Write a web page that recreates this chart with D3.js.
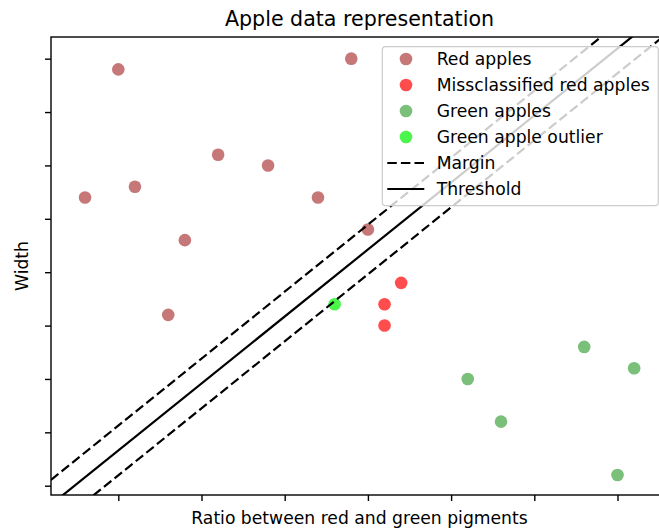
<!DOCTYPE html>
<html>
<head>
<meta charset="utf-8">
<script src="https://cdn.jsdelivr.net/npm/d3@7"></script>
<style>
  body { margin: 0; background: #fff; }
  svg { display: block; font-family: 'DejaVu Sans', sans-serif; }
</style>
</head>
<body>
<svg id="chart"></svg>
<script>
// data
const redX = [1.0, 0.6, 1.2, 2.2, 2.8, 3.4, 1.8, 3.8, 4.0, 1.6];
const redY = [7.8, 5.4, 5.6, 6.2, 6.0, 5.4, 4.6, 8.0, 4.8, 3.2];
const missX = [4.4, 4.2, 4.2];
const missY = [3.8, 3.4, 3.0];
const greenX = [5.2, 5.6, 6.6, 7.2, 7.0];
const greenY = [2.0, 1.2, 2.6, 2.2, 0.2];
const outlierX = [3.6];
const outlierY = [3.4];
const xTicks = [1, 2, 3, 4, 5, 6, 7];
const yTicks = [0, 1, 2, 3, 4, 5, 6, 7, 8];
// line y = slope * x + intercept
const slope = 1.255;
const intercept = -0.595;
const halfMargin = 0.465;

const svgWidth = 659;
const svgHeight = 530;

const svg = d3.select('#chart')
  .attr('width', svgWidth)
  .attr('height', svgHeight);

// axes box; the right edge sits just past the picture
const box = { left: 51, top: 37, right: 668, bottom: 495 };

const x = d3.scaleLinear()
  .domain([0.191, 7.607])
  .range([box.left, box.right]);

const y = d3.scaleLinear()
  .domain([-0.174, 8.406])
  .range([box.bottom, box.top]);

svg.append('clipPath')
  .attr('id', 'plot-area')
  .append('rect')
  .attr('x', box.left)
  .attr('y', box.top)
  .attr('width', box.right - box.left)
  .attr('height', box.bottom - box.top);

const plot = svg.append('g').attr('clip-path', 'url(#plot-area)');

const groups = [
  { name: 'Red apples', xs: redX, ys: redY, color: '#c67777' },
  { name: 'Missclassified red apples', xs: missX, ys: missY, color: '#ff4d4d' },
  { name: 'Green apples', xs: greenX, ys: greenY, color: '#7abf7a' },
  { name: 'Green apple outlier', xs: outlierX, ys: outlierY, color: '#4cf54c' },
];

// scatter
groups.forEach((grp) => {
  plot.append('g')
    .attr('fill', grp.color)
    .selectAll('circle')
    .data(grp.xs.map((v, i) => [v, grp.ys[i]]))
    .enter()
    .append('circle')
    .attr('cx', d => x(d[0]))
    .attr('cy', d => y(d[1]))
    .attr('r', 6.3);
});

// threshold and margins
const xEnds = x.domain();
const lines = [
  { c: intercept + halfMargin, dash: '9.5,4.1' },
  { c: intercept, dash: null },
  { c: intercept - halfMargin, dash: '9.5,4.1' },
];

const line = d3.line()
  .x(d => x(d[0]))
  .y(d => y(d[1]));

plot.selectAll('path.boundary')
  .data(lines)
  .enter()
  .append('path')
  .attr('class', 'boundary')
  .attr('d', l => line(xEnds.map(v => [v, slope * v + l.c])))
  .attr('fill', 'none')
  .attr('stroke', '#000')
  .attr('stroke-width', 2.2)
  .attr('stroke-dasharray', l => l.dash);

// ticks without labels
const xAxis = svg.append('g')
  .attr('transform', `translate(0,${box.bottom})`)
  .call(d3.axisBottom(x).tickValues(xTicks).tickSize(6).tickFormat(() => ''));

const yAxis = svg.append('g')
  .attr('transform', `translate(${box.left},0)`)
  .call(d3.axisLeft(y).tickValues(yTicks).tickSize(6).tickFormat(() => ''));

[xAxis, yAxis].forEach((a) => {
  a.select('.domain').remove();
  a.selectAll('line').attr('stroke', '#000').attr('stroke-width', 1.4);
});

// frame
svg.append('rect')
  .attr('x', box.left)
  .attr('y', box.top)
  .attr('width', box.right - box.left)
  .attr('height', box.bottom - box.top)
  .attr('fill', 'none')
  .attr('stroke', '#000')
  .attr('stroke-width', 1.4);

// titles
svg.append('text')
  .attr('x', (box.left + box.right) / 2)
  .attr('y', 26)
  .attr('text-anchor', 'middle')
  .attr('font-size', 20.6)
  .text('Apple data representation');

svg.append('text')
  .attr('x', (box.left + box.right) / 2)
  .attr('y', 524)
  .attr('text-anchor', 'middle')
  .attr('font-size', 17.2)
  .text('Ratio between red and green pigments');

svg.append('text')
  .attr('transform', `translate(28.3,${(box.top + box.bottom) / 2}) rotate(-90)`)
  .attr('text-anchor', 'middle')
  .attr('font-size', 17.2)
  .text('Width');

// legend
const legend = svg.append('g')
  .attr('font-size', 17.2);

legend.append('rect')
  .attr('x', 382.3)
  .attr('y', 46.7)
  .attr('width', 276)
  .attr('height', 159)
  .attr('rx', 3.4)
  .attr('fill', '#fff')
  .attr('fill-opacity', 0.8)
  .attr('stroke', '#cccccc')
  .attr('stroke-width', 1.2);

const entries = groups.map(g => ({ name: g.name, color: g.color, kind: 'dot' }))
  .concat([
    { name: 'Margin', kind: 'line', dash: '9.5,4.1' },
    { name: 'Threshold', kind: 'line', dash: null },
  ]);

const row = legend.selectAll('g.entry')
  .data(entries)
  .enter()
  .append('g')
  .attr('class', 'entry')
  .attr('transform', (d, i) => `translate(0,${59 + 26 * i})`);

row.filter(d => d.kind === 'dot')
  .append('circle')
  .attr('cx', 406)
  .attr('r', 6.3)
  .attr('fill', d => d.color);

row.filter(d => d.kind === 'line')
  .append('line')
  .attr('x1', 387.3)
  .attr('x2', 424.3)
  .attr('stroke', '#000')
  .attr('stroke-width', 2.2)
  .attr('stroke-dasharray', d => d.dash);

row.append('text')
  .attr('x', 436.7)
  .attr('y', 6.3)
  .text(d => d.name);
</script>
</body>
</html>
